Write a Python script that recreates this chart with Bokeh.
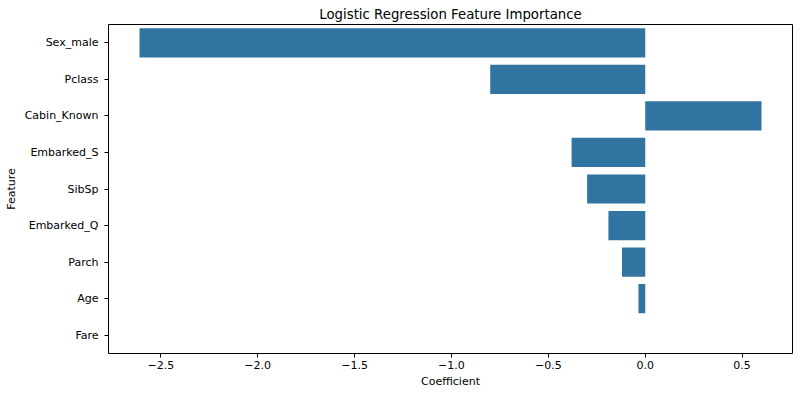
from bokeh.plotting import figure
from bokeh.embed import file_html
from bokeh.resources import INLINE
from bokeh.models import ColumnDataSource, FactorRange, Range1d, FixedTicker, CustomJSTickFormatter

features = ["Sex_male", "Pclass", "Cabin_Known", "Embarked_S", "SibSp", "Embarked_Q", "Parch", "Age", "Fare"]
coefs = [-2.61, -0.80, 0.60, -0.38, -0.30, -0.19, -0.12, -0.035, 0.0]
xticks = [-2.5, -2.0, -1.5, -1.0, -0.5, 0.0, 0.5]

src = ColumnDataSource(dict(feature=features, coef=coefs, zero=[0] * len(coefs)))

p = figure(width=800, height=396, output_backend="svg", toolbar_location=None,
           y_range=FactorRange(factors=list(reversed(features)), range_padding=0.0),
           x_range=Range1d(-2.77, 0.76),
           title="Logistic Regression Feature Importance",
           min_border_left=108, min_border_right=8, min_border_top=24, min_border_bottom=43)

p.hbar(y="feature", left="zero", right="coef", height=0.8, source=src,
       fill_color="#3274a1", line_color=None)

p.title.align = "center"
p.title.text_font = "DejaVu Sans"
p.title.text_font_size = "13.3px"
p.title.text_font_style = "normal"
p.title.text_color = "black"
p.title.standoff = 6

p.xaxis.ticker = FixedTicker(ticks=xticks)
p.xaxis.formatter = CustomJSTickFormatter(code="return tick.toFixed(1).replace('-', '\u2212');")
p.xaxis.axis_label = "Coefficient"
p.yaxis.axis_label = "Feature"
for ax in (p.xaxis, p.yaxis):
    ax.axis_label_text_font = "DejaVu Sans"
    ax.axis_label_text_font_size = "11px"
    ax.axis_label_text_font_style = "normal"
    ax.axis_label_text_color = "black"
    ax.major_label_text_font = "DejaVu Sans"
    ax.major_label_text_font_size = "11px"
    ax.major_label_text_color = "black"
    ax.major_tick_out = 4
    ax.major_tick_in = 0
    ax.minor_tick_out = 0
    ax.minor_tick_in = 0
    ax.axis_line_color = None
    ax.major_tick_line_color = "black"
p.xaxis.major_label_standoff = 3
p.yaxis.major_label_standoff = 6
p.xaxis.axis_label_standoff = 3
p.yaxis.axis_label_standoff = 4

p.xgrid.grid_line_color = None
p.ygrid.grid_line_color = None
p.outline_line_color = "black"
p.outline_line_width = 1
p.outline_line_alpha = 1
p.background_fill_color = "white"
p.border_fill_color = "white"

open("out.html", "w").write(file_html(p, INLINE))
